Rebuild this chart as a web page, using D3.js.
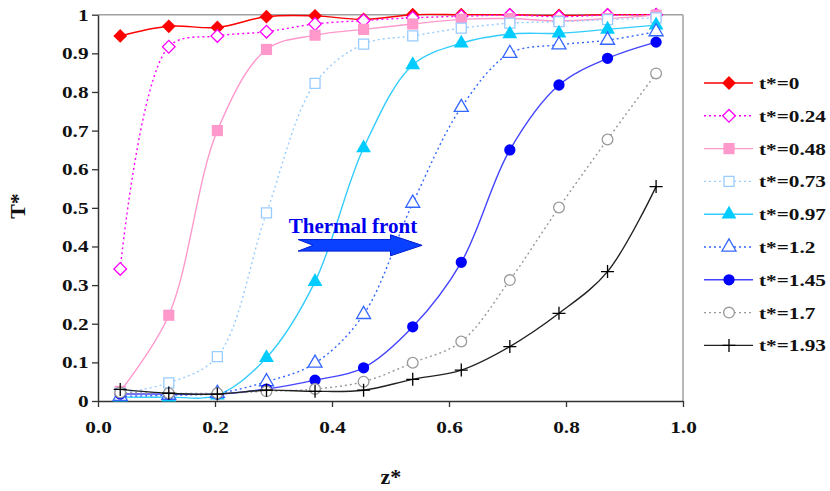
<!DOCTYPE html>
<html><head><meta charset="utf-8">
<script src="https://cdn.jsdelivr.net/npm/d3@7/dist/d3.min.js"></script>
<style>body{margin:0;background:#fff}svg{display:block}</style>
</head><body>
<svg id="c" width="830" height="491"></svg>
<script>
// ---- data ----
const zValues = [0.038,0.121,0.204,0.288,0.371,0.454,0.538,0.621,0.704,0.788,0.871,0.954];
const seriesNames = ["t*=0","t*=0.24","t*=0.48","t*=0.73","t*=0.97","t*=1.2","t*=1.45","t*=1.7","t*=1.93"];
const T_0    = [0.945,0.970,0.967,0.995,0.997,0.988,1.000,1.000,1.000,0.998,1.000,1.000];
const T_024  = [0.342,0.917,0.945,0.956,0.976,0.985,0.992,0.996,0.999,0.995,0.999,1.000];
const T_048  = [0.025,0.222,0.700,0.910,0.947,0.962,0.976,0.988,0.990,0.984,0.990,0.999];
const T_073  = [0.020,0.047,0.115,0.487,0.822,0.924,0.945,0.965,0.978,0.982,0.987,0.992];
const T_097  = [0.010,0.010,0.015,0.112,0.309,0.655,0.870,0.926,0.950,0.952,0.962,0.973];
const T_12   = [0.012,0.015,0.020,0.050,0.098,0.224,0.512,0.760,0.900,0.922,0.934,0.956];
const T_145  = [0.018,0.018,0.018,0.031,0.054,0.086,0.192,0.359,0.650,0.818,0.887,0.929];
const T_17   = [0.022,0.020,0.020,0.025,0.031,0.050,0.099,0.154,0.313,0.501,0.677,0.848];
const T_193  = [0.030,0.020,0.018,0.028,0.025,0.028,0.056,0.080,0.141,0.227,0.335,0.555];
const seriesValues = [T_0,T_024,T_048,T_073,T_097,T_12,T_145,T_17,T_193];
const xTickValues = [0,0.2,0.4,0.6,0.8,1.0];
const xTickLabels = ["0.0","0.2","0.4","0.6","0.8","1.0"];
const yTickValues = [0,0.1,0.2,0.3,0.4,0.5,0.6,0.7,0.8,0.9,1];
const yTickLabels = ["0","0.1","0.2","0.3","0.4","0.5","0.6","0.7","0.8","0.9","1"];

// ---- styles ----
const styles = [
  {line:"#ff0000", mk:"#ff0000", dash:null,  sym:"diamond", fill:true},
  {line:"#ff00ff", mk:"#ff00ff", dash:"2,3", sym:"diamond", fill:false},
  {line:"#ff99cc", mk:"#ff99cc", dash:null,  sym:"square",  fill:true},
  {line:"#99ccff", mk:"#99ccff", dash:"2,3", sym:"square",  fill:false},
  {line:"#33ccff", mk:"#00ccff", dash:null,  sym:"triangle",fill:true},
  {line:"#3366ff", mk:"#3366ff", dash:"2,3", sym:"triangle",fill:false},
  {line:"#4444ff", mk:"#0000ff", dash:null,  sym:"circle",  fill:true},
  {line:"#999999", mk:"#999999", dash:"2,3", sym:"circle",  fill:false},
  {line:"#222222", mk:"#000000", dash:null,  sym:"plus",    fill:false}
];
const FONT = "'Liberation Serif','Times New Roman',serif";
const SX = 1.25;

const svg = d3.select("#c");
const x = d3.scaleLinear([0,1],[98,683]);
const y = d3.scaleLinear([0,1],[401,14.7]);

// frame
svg.append("line").attr("x1",x(0)).attr("x2",x(1)).attr("y1",y(1)).attr("y2",y(1)).attr("stroke","#a0a0a0").attr("stroke-width",1.5);
svg.append("line").attr("x1",x(1)).attr("x2",x(1)).attr("y1",y(1)).attr("y2",y(0)).attr("stroke","#a0a0a0").attr("stroke-width",1.5);

// axes
const xAxis = d3.axisBottom(x).tickValues(xTickValues).tickFormat((d,i)=>xTickLabels[i]).tickSizeInner(6).tickSizeOuter(0).tickPadding(14);
const gx = svg.append("g").attr("transform",`translate(0,${y(0)})`).call(xAxis);
const yAxis = d3.axisLeft(y).tickValues(yTickValues).tickFormat((d,i)=>yTickLabels[i]).tickSizeInner(6).tickSizeOuter(0).tickPadding(3);
const gy = svg.append("g").attr("transform",`translate(${x(0)},0)`).call(yAxis);
[gx,gy].forEach(g=>{
  g.select(".domain").attr("stroke","#333").attr("stroke-width",1.5);
  g.selectAll(".tick line").attr("stroke","#333").attr("stroke-width",1.3);
  g.selectAll(".tick text").attr("font-family",FONT).attr("font-weight","bold").attr("font-size",17).attr("fill","#111");
});
gx.selectAll(".tick text").attr("transform",`scale(${SX},1)`);
gy.selectAll(".tick text").attr("x",-9.5/SX).attr("transform",`scale(${SX},1)`);

// axis titles
svg.append("text").attr("transform","translate(25,206) rotate(-90)").attr("text-anchor","middle")
  .attr("font-family",FONT).attr("font-weight","bold").attr("font-size",22).attr("fill","#111").text("T*");
svg.append("text").attr("x",391).attr("y",484).attr("text-anchor","middle")
  .attr("font-family",FONT).attr("font-weight","bold").attr("font-size",22).attr("fill","#111").text("z*");

// marker helper
function marker(g, st, cx, cy){
  if(st.sym==="plus"){
    const p = g.append("path").attr("d",`M${cx-6.5},${cy}H${cx+6.5}M${cx},${cy-6.5}V${cy+6.5}`)
      .attr("stroke",st.mk).attr("stroke-width",1.3).attr("fill","none");
    return p;
  }
  let type, size, rot=0;
  if(st.sym==="diamond"){type=d3.symbolSquare; size=st.fill?95:80; rot=45;}
  else if(st.sym==="square"){type=d3.symbolSquare; size=st.fill?125:100;}
  else if(st.sym==="triangle"){type=d3.symbolTriangle; size=st.fill?95:85;}
  else {type=d3.symbolCircle; size=st.fill?100:90;}
  const p = g.append("path").attr("d",d3.symbol(type,size)())
    .attr("transform",`translate(${cx},${cy}) rotate(${rot})`);
  if(st.fill) p.attr("fill",st.mk).attr("stroke","none");
  else p.attr("fill","#fff").attr("stroke",st.mk).attr("stroke-width",1.3);
  return p;
}

// series
const lineGen = d3.line().x(d=>x(d[0])).y(d=>y(d[1])).curve(d3.curveCatmullRom.alpha(0.5));
seriesValues.forEach((vals,i)=>{
  const st = styles[i];
  const g = svg.append("g");
  const pts = zValues.map((z,j)=>[z,vals[j]]);
  g.append("path").attr("d",lineGen(pts)).attr("fill","none").attr("stroke",st.line)
    .attr("stroke-width",1.4).attr("stroke-dasharray",st.dash);
  pts.forEach(p=>marker(g,st,x(p[0]),y(p[1])));
});

// legend
const legY0 = 83, legDY = 32.8;
seriesNames.forEach((name,i)=>{
  const st = styles[i];
  const cy = legY0 + i*legDY;
  const g = svg.append("g");
  g.append("line").attr("x1",704).attr("x2",753).attr("y1",cy).attr("y2",cy)
    .attr("stroke",st.line).attr("stroke-width",1.4).attr("stroke-dasharray",st.dash);
  marker(g,st,729,cy);
  g.append("text").attr("transform",`translate(759,${cy+6}) scale(${SX},1)`)
    .attr("font-family",FONT).attr("font-weight","bold").attr("font-size",17).attr("fill","#111").text(name);
});

// annotation: thermal front
const ax0 = x(0.342), ax1 = x(0.554), ahb = x(0.5), ayc = y(0.403);
svg.append("path")
  .attr("d",`M${ax0},${ayc-5.8}L${ahb},${ayc-5.8}L${ahb},${ayc-10.5}L${ax1},${ayc}L${ahb},${ayc+10.5}L${ahb},${ayc+5.8}L${ax0},${ayc+5.8}L${ax0+15},${ayc}Z`)
  .attr("fill","#0a40ff").attr("stroke","#0020d0").attr("stroke-width",1);
svg.append("text").attr("x",x(0.326)).attr("y",y(0.435))
  .attr("font-family",FONT).attr("font-weight","bold").attr("font-size",21).attr("fill","#0000ee").text("Thermal front");
</script>
</body></html>
